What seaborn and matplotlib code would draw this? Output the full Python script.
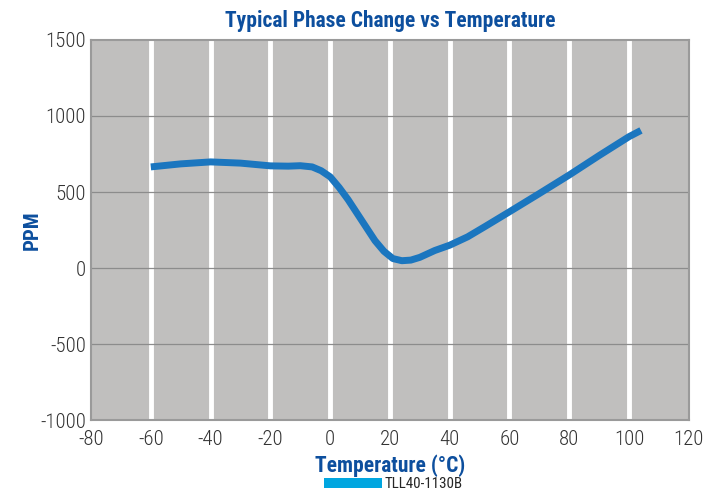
import matplotlib
matplotlib.use("Agg")
import matplotlib.pyplot as plt
from matplotlib.patches import Patch
import seaborn as sns
import pandas as pd

# values
temp = [-60, -50, -40, -30, -20, -14, -10, -6, -3, 0, 3, 6, 9, 12, 15, 18, 21, 24, 27, 30, 35, 40, 46, 52, 60, 70, 80, 90, 100, 104]
ppm = [665, 685, 698, 690, 672, 670, 673, 665, 640, 600, 530, 450, 360, 270, 180, 110, 62, 48, 52, 70, 115, 150, 205, 275, 370, 490, 612, 740, 864, 905]
series_name = "TLL40-1130B"

xticks = list(range(-80, 121, 20))
yticks = list(range(-1000, 1501, 500))

df = pd.DataFrame({"Temperature": temp, "PPM": ppm})

sns.set_style("white")
plt.rcParams["font.family"] = ["Roboto Condensed", "Archivo Narrow", "DejaVu Sans"]
plt.rcParams["axes.unicode_minus"] = False

blue = "#0d4f9e"
fig = plt.figure(figsize=(7.19, 4.95), dpi=100)
ax = fig.add_axes([0.1266, 0.1515, 0.8314, 0.7677])
ax.set_facecolor("#c0bfbe")

for x in xticks[1:-1]:
    ax.axvline(x, color="white", lw=3.5, zorder=1)
for y in yticks[1:-1]:
    ax.axhline(y, color="#8c8c8c", lw=0.9, zorder=1)

sns.lineplot(data=df, x="Temperature", y="PPM", color="#1b76bf", lw=5,
             ax=ax, zorder=3, solid_capstyle="butt", solid_joinstyle="round")

ax.set_xlim(-80, 120)
ax.set_ylim(-1000, 1500)
ax.set_xticks(xticks)
ax.set_yticks(yticks)
ax.tick_params(axis="x", pad=7)
ax.tick_params(length=0, labelsize=15, colors="#333333")
for lab in ax.get_xticklabels() + ax.get_yticklabels():
    lab.set_fontweight("light")
for s in ax.spines.values():
    s.set_color("#9a9a9a")
    s.set_linewidth(1.5)

ax.set_title("Typical Phase Change vs Temperature", color=blue,
             fontsize=15.5, fontweight="bold", pad=9)
ax.set_xlabel("Temperature (°C)", color=blue, fontsize=15.5, fontweight="bold", labelpad=4)
ax.set_ylabel("PPM", color=blue, fontsize=15, fontweight="bold", labelpad=-1)

handle = Patch(facecolor="#00a6e0", edgecolor="none")
fig.legend([handle], [series_name], loc="center", bbox_to_anchor=(0.547, 0.022),
           frameon=False, fontsize=10.8, handlelength=3.9, handleheight=0.6,
           handletextpad=0.15, borderpad=0)

fig.savefig("out.png", dpi=100)
